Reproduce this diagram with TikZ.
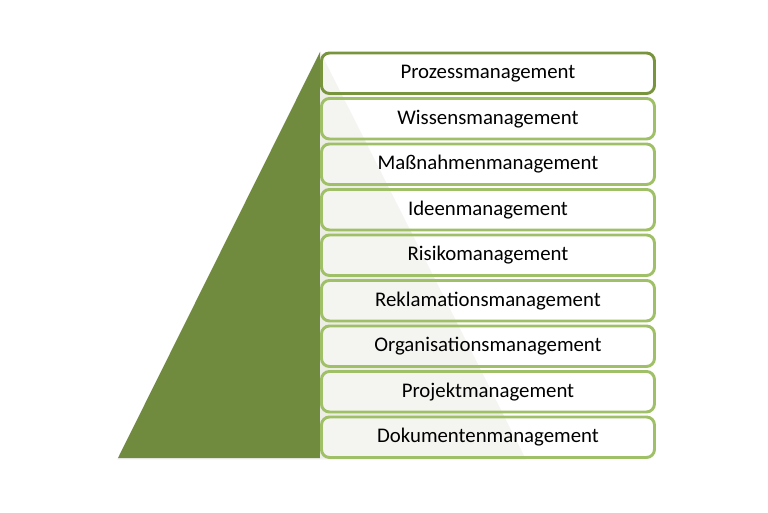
\documentclass[tikz,border=0pt]{standalone}
\usepackage{fontspec}
\setmainfont{Carlito}
\definecolor{pyrgreen}{RGB}{112,138,62}
\definecolor{pyrlight}{RGB}{236,237,229}
\definecolor{boxline}{RGB}{160,192,104}
\definecolor{boxlinetop}{RGB}{120,148,60}
\tikzset{
  listbox/.style={draw=boxline, line width=2.2pt, rounded corners=6pt, fill=white, fill opacity=0.45, text opacity=1,
    minimum width=333*0.75pt, minimum height=40.5*0.75pt, inner sep=0pt, anchor=north west,
    font=\fontsize{15.6}{18}\selectfont, text=black},
}
\begin{document}
\begin{tikzpicture}[x=0.75pt,y=-0.75pt]
\useasboundingbox (0,0) rectangle (768,512);
% pyramid
\fill[white!90!gray] (117,459.5) -- (320,51) -- (526,459.5) -- cycle;
\fill[pyrgreen] (118,458) -- (320,52) -- (320,458) -- cycle;
\fill[pyrlight] (320,52) -- (525,458) -- (320,458) -- cycle;
% boxes
\node[listbox, draw=boxlinetop] (b1) at (320,51.5) {Prozessmanagement};
\node[listbox] (b2) at (320,97) {Wissensmanagement};
\node[listbox] (b3) at (320,142.5) {Maßnahmenmanagement};
\node[listbox] (b4) at (320,188) {Ideenmanagement};
\node[listbox] (b5) at (320,233.5) {Risikomanagement};
\node[listbox] (b6) at (320,279) {Reklamationsmanagement};
\node[listbox] (b7) at (320,324.5) {Organisationsmanagement};
\node[listbox] (b8) at (320,370) {Projektmanagement};
\node[listbox] (b9) at (320,415.5) {Dokumentenmanagement};
\end{tikzpicture}
\end{document}
